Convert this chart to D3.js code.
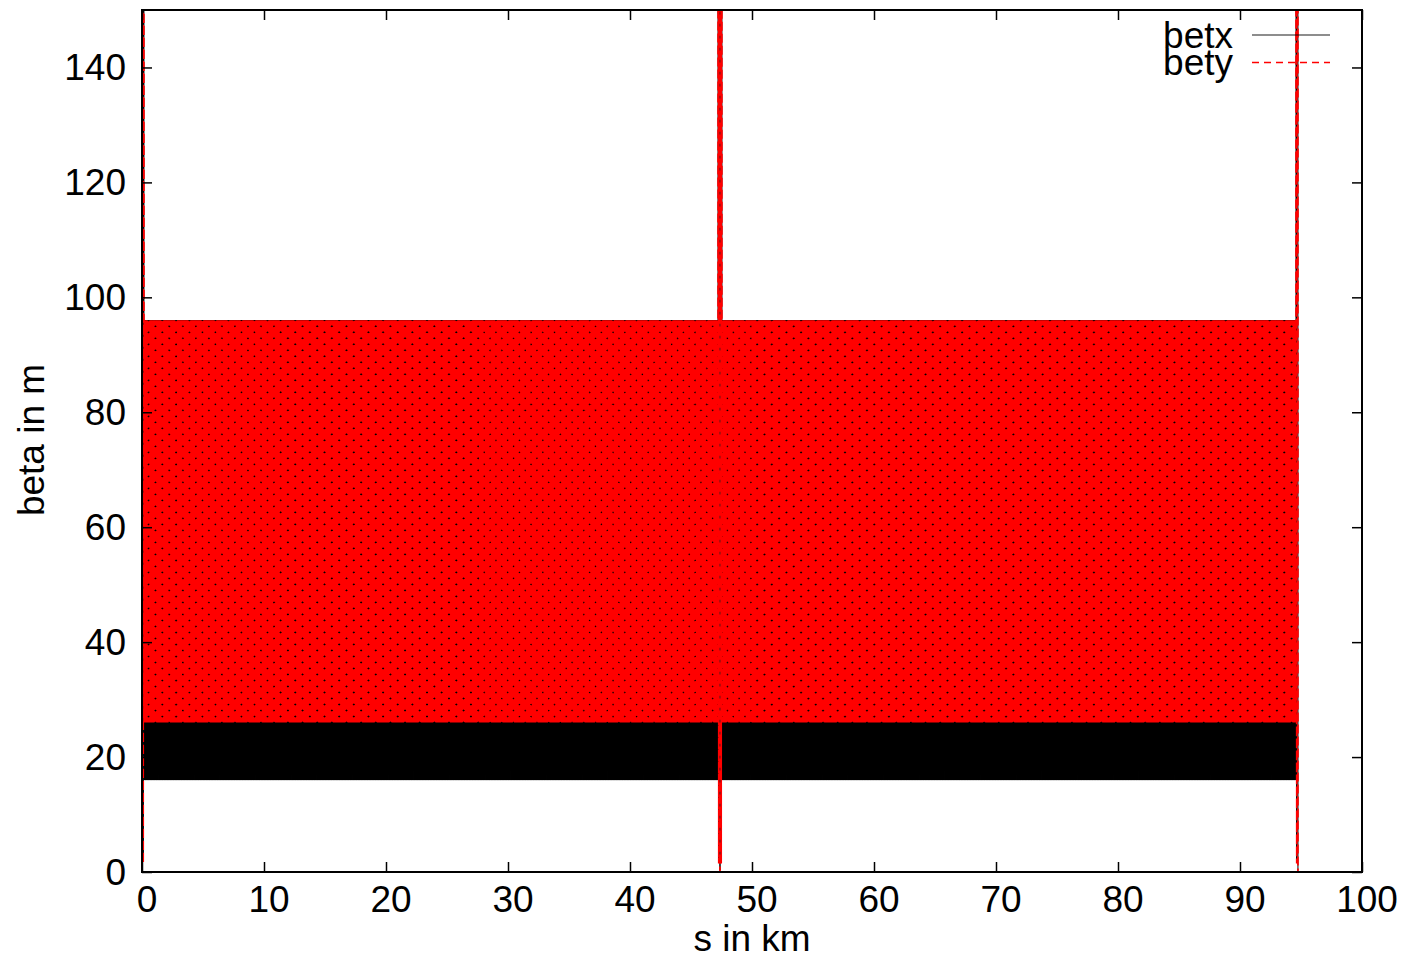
<!DOCTYPE html>
<html>
<head>
<meta charset="utf-8">
<script src="https://cdn.jsdelivr.net/npm/d3@7"></script>
<style>
  html, body { margin: 0; padding: 0; background: #fff; }
  svg { display: block; }
  text { font-family: "Liberation Sans", Arial, sans-serif; fill: #000; }
</style>
</head>
<body>
<svg id="chart" width="1408" height="959"></svg>
<script>
// ---- lattice data -------------------------------------------------------
// interaction points along the ring (km)
const ipPositions = [0, 47.375, 94.75];
// arc cell length (km) and one periodic FODO cell of the arcs
const cellLength = 0.05;
const cellFrac = [0, 0.25, 0.5, 0.75, 1];
const cellBetx = [96, 45, 16, 45, 96];
const cellBety = [26, 52, 96, 52, 26];
// insertion around each interaction point, offsets in km from the IP
const irOffset = [-0.16, -0.13, -0.1, -0.07, -0.04, 0, 0.04, 0.07, 0.1, 0.13, 0.16];
const irBetx = [96, 900, 2, 2500, 4000, 0.3, 4000, 2500, 2, 900, 96];
const irBety = [26, 1200, 1.5, 3000, 6000, 0.15, 6000, 3000, 1.5, 1200, 26];
// axis ticks
const xTicks = [0, 10, 20, 30, 40, 50, 60, 70, 80, 90, 100];
const yTicks = [0, 20, 40, 60, 80, 100, 120, 140];
const seriesNames = ["betx", "bety"];

// ---- build the optics table along s ------------------------------------
const optics = [];
function addInsertion(ip, from, to) {
  irOffset.forEach((o, i) => {
    if (o >= from && o <= to) optics.push({ s: ip + o, betx: irBetx[i], bety: irBety[i] });
  });
}
const irHalf = irOffset[irOffset.length - 1];
for (let k = 0; k < ipPositions.length - 1; k++) {
  const a = ipPositions[k], b = ipPositions[k + 1];
  addInsertion(a, 0, irHalf);
  const arcStart = a + irHalf, arcEnd = b - irHalf;
  const nCells = Math.floor((arcEnd - arcStart) / cellLength);
  const len = (arcEnd - arcStart) / nCells;
  for (let c = 0; c < nCells; c++) {
    cellFrac.forEach((f, i) => {
      if (c > 0 && i === 0) return;
      optics.push({ s: arcStart + (c + f) * len, betx: cellBetx[i], bety: cellBety[i] });
    });
  }
  addInsertion(b, -irHalf, k === ipPositions.length - 2 ? 0 : -1e-9);
}

// ---- layout --------------------------------------------------------------
const svg = d3.select("#chart");
const L = 142, R = 1362, T = 10, B = 872;
const x = d3.scaleLinear().domain([0, 100]).range([L, R]);
const y = d3.scaleLinear().domain([0, 150]).range([B, T]);

svg.append("defs").append("clipPath").attr("id", "plotClip")
  .append("rect").attr("x", L).attr("y", T).attr("width", R - L).attr("height", B - T);

const plot = svg.append("g").attr("clip-path", "url(#plotClip)");

const lineX = d3.line().x(d => x(d.s)).y(d => y(d.betx));
const lineY = d3.line().x(d => x(d.s)).y(d => y(d.bety));

plot.append("path").datum(optics)
  .attr("d", lineX).attr("fill", "none").attr("stroke", "#000").attr("stroke-width", 1);
plot.append("path").datum(optics)
  .attr("d", lineY).attr("fill", "none").attr("stroke", "#ff0000").attr("stroke-width", 1.7)
  .attr("stroke-dasharray", "9,3");

// ---- axes (ticks inward, mirrored on top and right) ----------------------
const tickLen = 10;
const axisB = svg.append("g").attr("transform", `translate(0,${B})`)
  .call(d3.axisBottom(x).tickValues(xTicks).tickSize(-tickLen).tickFormat(""));
const axisT = svg.append("g").attr("transform", `translate(0,${T})`)
  .call(d3.axisTop(x).tickValues(xTicks).tickSize(-tickLen).tickFormat(""));
const axisL = svg.append("g").attr("transform", `translate(${L},0)`)
  .call(d3.axisLeft(y).tickValues(yTicks).tickSize(-tickLen).tickFormat(""));
const axisR = svg.append("g").attr("transform", `translate(${R},0)`)
  .call(d3.axisRight(y).tickValues(yTicks).tickSize(-tickLen).tickFormat(""));
[axisB, axisT, axisL, axisR].forEach(g => {
  g.select(".domain").remove();
  g.selectAll(".tick line").attr("stroke", "#000").attr("stroke-width", 1.5);
});

// tick labels
svg.append("g").selectAll("text").data(xTicks).join("text")
  .attr("x", d => x(d) + 5).attr("y", 912)
  .attr("text-anchor", "middle").attr("font-size", 37).text(d => d);
svg.append("g").selectAll("text").data(yTicks).join("text")
  .attr("x", 126).attr("y", d => y(d) + 13)
  .attr("text-anchor", "end").attr("font-size", 37).text(d => d);

// border
svg.append("rect").attr("x", L).attr("y", T).attr("width", R - L).attr("height", B - T)
  .attr("fill", "none").attr("stroke", "#000").attr("stroke-width", 2);

// axis titles
svg.append("text").attr("x", 752).attr("y", 951).attr("text-anchor", "middle")
  .attr("font-size", 37).text("s in km");
svg.append("text").attr("transform", "translate(44,440) rotate(-90)")
  .attr("text-anchor", "middle").attr("font-size", 37).text("beta in m");

// ---- legend ----------------------------------------------------------------
const legend = svg.append("g");
const legendStyles = [
  { stroke: "#000", dash: null, op: 0.6 },
  { stroke: "#ff0000", dash: "7,5", op: 1 }
];
seriesNames.forEach((name, i) => {
  const ly = 35 + i * 27.5;
  legend.append("text").attr("x", 1233).attr("y", ly + 12.5)
    .attr("text-anchor", "end").attr("font-size", 37).text(name);
  legend.append("line").attr("x1", 1252).attr("x2", 1330).attr("y1", ly).attr("y2", ly)
    .attr("stroke", legendStyles[i].stroke).attr("stroke-width", 1.5)
    .attr("stroke-opacity", legendStyles[i].op)
    .attr("stroke-dasharray", legendStyles[i].dash);
});
</script>
</body>
</html>
